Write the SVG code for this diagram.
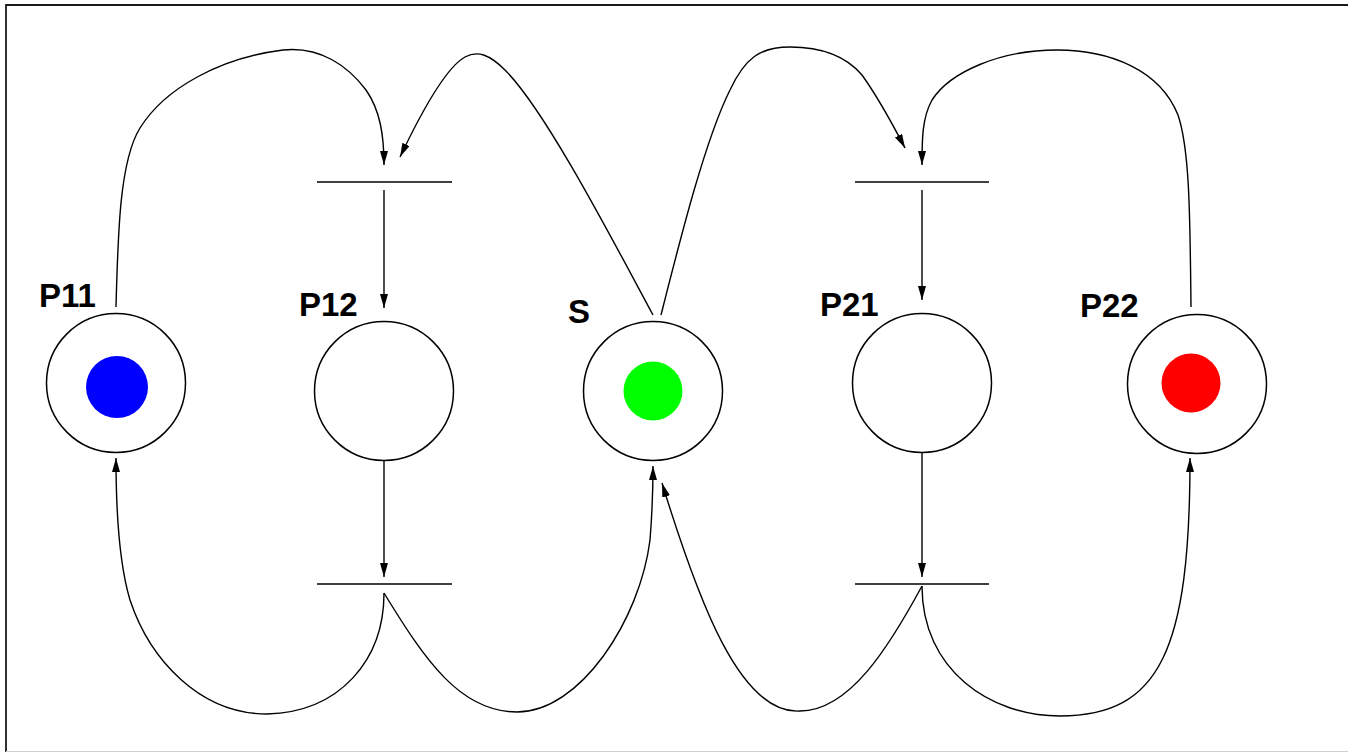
<svg xmlns="http://www.w3.org/2000/svg" width="1348" height="752" viewBox="0 0 1348 752">
  <style>
    .place { fill: #ffffff; stroke: #000000; stroke-width: 1.5; }
    .bar { stroke: #000000; stroke-width: 1.6; }
    .arc { fill: none; stroke: #000000; stroke-width: 1.4; marker-end: url(#tip); }
    .label { font-family: "Liberation Sans", Arial, Helvetica, sans-serif; font-weight: bold; font-size: 33px; fill: #000000; }
  </style>
  <defs>
    <marker id="tip" markerUnits="userSpaceOnUse" markerWidth="15" markerHeight="9" refX="14" refY="4" orient="auto">
      <path d="M0,0 L14,4 L0,8 Z" fill="#000000"/>
    </marker>
  </defs>

  <rect x="0" y="0" width="1348" height="752" fill="#ffffff"/>
  <!-- frame -->
  <path d="M6,752 V5 H1348" fill="none" stroke="#1a1a1a" stroke-width="1.8"/>
  <line x1="6" y1="751.5" x2="1348" y2="751.5" stroke="#d0d0d0" stroke-width="1.2"/>

  <!-- places -->
  <g id="P11">
    <circle class="place" cx="116" cy="383" r="69.5"/>
    <circle cx="117" cy="387" r="31" fill="#0000ff"/>
    <text class="label" x="39" y="307">P11</text>
  </g>
  <g id="P12">
    <circle class="place" cx="384" cy="391" r="69.5"/>
    <text class="label" x="299" y="316">P12</text>
  </g>
  <g id="S">
    <circle class="place" cx="653" cy="391" r="69.5"/>
    <circle cx="653" cy="391" r="29.5" fill="#00ff00"/>
    <text class="label" x="568" y="323">S</text>
  </g>
  <g id="P21">
    <circle class="place" cx="922" cy="383" r="69.5"/>
    <text class="label" x="820" y="316">P21</text>
  </g>
  <g id="P22">
    <circle class="place" cx="1197" cy="384" r="69.5"/>
    <circle cx="1191" cy="383" r="29.5" fill="#ff0000"/>
    <text class="label" x="1080" y="317">P22</text>
  </g>

  <!-- transitions -->
  <g id="T1"><line class="bar" x1="317" y1="182" x2="452" y2="182"/></g>
  <g id="T2"><line class="bar" x1="855" y1="182" x2="989" y2="182"/></g>
  <g id="T3"><line class="bar" x1="317" y1="584" x2="452" y2="584"/></g>
  <g id="T4"><line class="bar" x1="855" y1="584" x2="989" y2="584"/></g>

  <!-- arcs -->
  <g id="connectors">
    <!-- P11 -> T1 -->
    <path class="arc" d="M116,307 C118,230 120,160 140,128 C165,88 220,58 283,50 C320,46 348,66 366,90 C380,110 384,135 384,165"/>
    <!-- S -> T1 -->
    <path class="arc" d="M653,315 C610,235 545,110 505,70 C490,55 478,50 465,57 C445,68 420,115 400,157"/>
    <!-- S -> T2 -->
    <path class="arc" d="M661,315 C680,240 705,140 730,90 C745,58 760,47 790,47 C820,47 845,55 862,75 C880,100 893,125 905,148"/>
    <!-- P22 -> T2 -->
    <path class="arc" d="M1191,307 C1190,220 1190,150 1178,115 C1160,70 1110,50 1057,50 C1000,50 950,72 932,100 C922,118 922,140 922,165"/>
    <!-- T1 -> P12 -->
    <path class="arc" d="M384,190 L384,308"/>
    <!-- P12 -> T3 -->
    <path class="arc" d="M384,461 L384,577"/>
    <!-- T2 -> P21 -->
    <path class="arc" d="M922,190 L922,300"/>
    <!-- P21 -> T4 -->
    <path class="arc" d="M922,453 L922,577"/>
    <!-- T3 -> P11 -->
    <path class="arc" d="M384,593 C384,660 340,712 267,714 C200,714 150,660 130,600 C118,560 116,500 116,458"/>
    <!-- T3 -> S -->
    <path class="arc" d="M384,593 C425,660 460,712 517,712 C580,712 640,620 650,540 C652,515 653,490 653,466"/>
    <!-- T4 -> S -->
    <path class="arc" d="M922,586 C890,645 850,711 800,711 C740,715 698,600 662,483"/>
    <!-- T4 -> P22 -->
    <path class="arc" d="M922,586 C922,670 990,716 1060,716 C1160,716 1190,650 1190,458"/>
  </g>
</svg>
